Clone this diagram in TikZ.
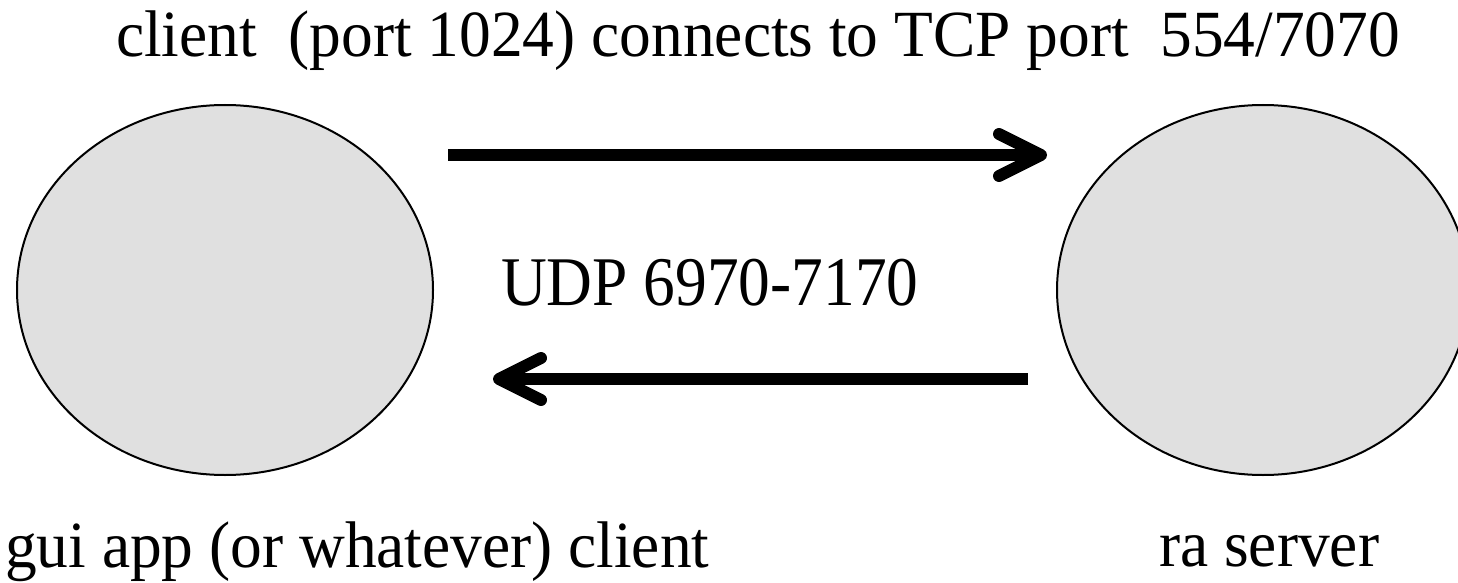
\documentclass[tikz,border=0pt]{standalone}
\usepackage{fontspec}
\setmainfont{Liberation Serif}
\usetikzlibrary{calc}
\definecolor{hostfill}{HTML}{E0E0E0}
\newcommand{\tallText}[2]{\scalebox{1}[#1]{#2}}
\begin{document}
\begin{tikzpicture}[x=1pt,y=-1pt,
  host/.style={draw=black,line width=2pt,fill=hostfill},
  label/.style={inner sep=0pt,anchor=base west,
    font=\fontsize{63.4pt}{70pt}\selectfont},
  shaft/.style={line width=12pt,line cap=butt},
  barb/.style={line width=12pt,line cap=round,line join=round}]
\useasboundingbox (0,0) rectangle (1458,583);
\clip (0,0) rectangle (1458,583);

% the two hosts
\draw[host] (225,290) ellipse [x radius=208,y radius=185];
\draw[host] (1263,290) ellipse [x radius=206,y radius=185];
\coordinate (client) at (225,290);
\coordinate (server) at (1263,290);

% end points of the two flows
\coordinate (tcpFrom) at (448,155);
\coordinate (tcpTo)   at (1041,155);
\coordinate (udpFrom) at (1028,379);
\coordinate (udpTo)   at (499,379);

% TCP connection, client to server
\draw[shaft] (tcpFrom) -- ($(tcpTo)+(-6,0)$);
\draw[barb] ($(tcpTo)+(-42,-21)$) -- (tcpTo) -- ($(tcpTo)+(-42,21)$);

% UDP stream, server to client
\draw[shaft] (udpFrom) -- ($(udpTo)+(6,0)$);
\draw[barb] ($(udpTo)+(42,-21)$) -- (udpTo) -- ($(udpTo)+(42,21)$);

% labels
\node[label] (tcpText) at (116,57) {\tallText{1.04}{client\ \ (port 1024) connects to TCP port\ \ 554/7070}};
\node[label] (udpText) at (501,305) {\tallText{1.1}{UDP 6970-7170}};
\node[label] (clientText) at (5,567) {\tallText{1.04}{gui app (or whatever) client}};
\node[label] (serverText) at (1159,566) {\tallText{1.04}{ra server}};
\end{tikzpicture}
\end{document}
